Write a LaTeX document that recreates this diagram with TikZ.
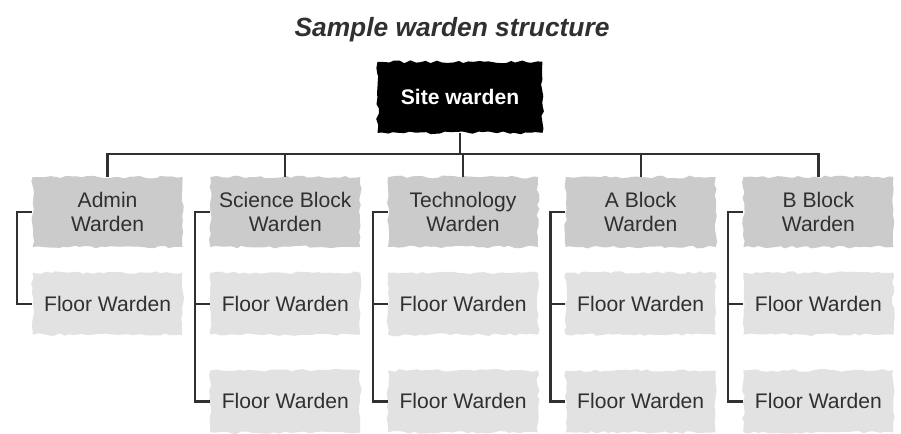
\documentclass[tikz,border=0pt]{standalone}
\usepackage{fontspec}
\setmainfont{Liberation Sans}
\usetikzlibrary{positioning,decorations.pathmorphing}
\definecolor{lvlgray}{HTML}{CBCBCB}
\definecolor{floorgray}{HTML}{E2E2E2}
\definecolor{inkgray}{HTML}{303030}
\tikzset{
  rough/.style={decorate,decoration={random steps,segment length=3pt,amplitude=0.8pt}},
  sitebox/.style={rough,fill=black,text=white,font=\bfseries\fontsize{12}{14}\selectfont,
    minimum width=3.3cm,minimum height=1.42cm,inner sep=0pt},
  wardbox/.style={rough,fill=lvlgray,text=inkgray,font=\fontsize{12}{14}\selectfont,
    align=center,minimum width=3cm,minimum height=1.4cm,inner sep=0pt},
  floorbox/.style={rough,fill=floorgray,text=inkgray,font=\fontsize{12}{14}\selectfont,
    minimum width=3cm,minimum height=1.24cm,inner sep=0pt},
  link/.style={draw=inkgray,line width=1.3pt}
}
\begin{document}
\begin{tikzpicture}
\pgfmathsetseed{7}
\useasboundingbox (0,0) rectangle (18.02,-8.66);
\node[text=inkgray,font=\bfseries\itshape\fontsize{15}{18}\selectfont](title) at (9.04,-0.6){Sample warden structure};
\node[wardbox](tech) at (9.26,-4.24){Technology\\Warden};
\node[sitebox, above =0.87cm of tech, xshift=-0.06cm](site){Site warden};
\node[wardbox, left  =0.54cm of tech](science){Science Block\\Warden};
\node[wardbox, left  =0.54cm of science](admin){Admin\\Warden};
\node[wardbox, right =0.54cm of tech](ablock){A Block\\Warden};
\node[wardbox, right =0.54cm of ablock](bblock){B Block\\Warden};
\node[floorbox, below =0.5cm of admin](admin1){Floor Warden};
\node[floorbox, below =0.5cm of science](science1){Floor Warden};
\node[floorbox, below =0.7cm of science1](science2){Floor Warden};
\node[floorbox, below =0.5cm of tech](tech1){Floor Warden};
\node[floorbox, below =0.7cm of tech1](tech2){Floor Warden};
\node[floorbox, below =0.5cm of ablock](ablock1){Floor Warden};
\node[floorbox, below =0.7cm of ablock1](ablock2){Floor Warden};
\node[floorbox, below =0.5cm of bblock](bblock1){Floor Warden};
\node[floorbox, below =0.7cm of bblock1](bblock2){Floor Warden};
\coordinate[below =0.42cm of site](bar);
% top level
\path[link] (site.south) -- (bar);
\path[link] (admin.north) |- (bar) -| (bblock.north);
\path[link] (science.north) -- (science.north |- bar);
\path[link] (tech.north) -- (tech.north |- bar);
\path[link] (ablock.north) -- (ablock.north |- bar);
% floor brackets
\path[link] (admin.west) -- ++(-0.3,0) |- (admin1.west);
\path[link] (science.west) -- ++(-0.3,0) |- (science2.west);
\path[link] (science1.west) -- ++(-0.3,0);
\path[link] (tech.west) -- ++(-0.3,0) |- (tech2.west);
\path[link] (tech1.west) -- ++(-0.3,0);
\path[link] (ablock.west) -- ++(-0.3,0) |- (ablock2.west);
\path[link] (ablock1.west) -- ++(-0.3,0);
\path[link] (bblock.west) -- ++(-0.3,0) |- (bblock2.west);
\path[link] (bblock1.west) -- ++(-0.3,0);
\end{tikzpicture}
\end{document}
